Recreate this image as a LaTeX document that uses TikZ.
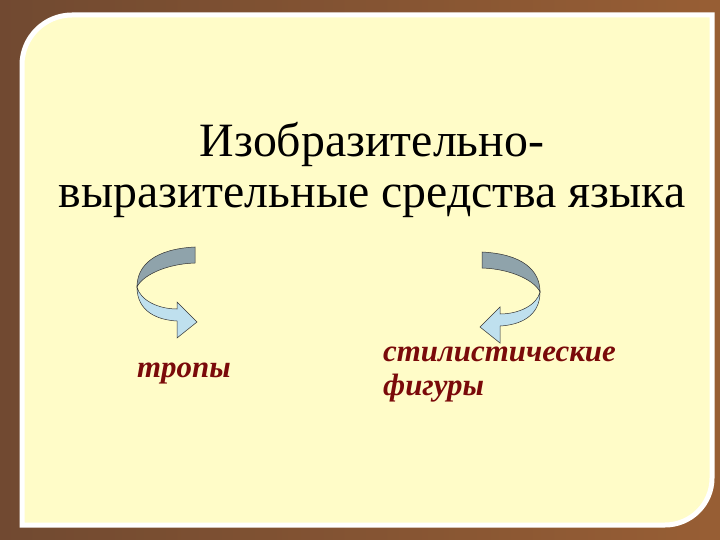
\documentclass[tikz,border=0pt]{standalone}
\usepackage{fontspec}
\setmainfont{Liberation Serif}
\definecolor{bgbrown}{HTML}{8A5A3C}
\definecolor{panel}{HTML}{FFFCC8}
\definecolor{wine}{HTML}{7A0A0A}
\definecolor{backgray}{HTML}{8FA3AB}
\definecolor{frontblue}{HTML}{BFE0EE}
\newcommand\twistshape{%
    \fill[backgray,band] (195,247) .. controls (155,249) and (137,265) .. (137,287)
       .. controls (142,276) and (165,264) .. (195,263) -- cycle;
    \fill[frontblue,band] (137,287) .. controls (137,312) and (158,320) .. (177,321)
       -- (177,338) -- (197,322) -- (177,302) -- (177,309)
       .. controls (158,309) and (140,300) .. (137,287) -- cycle;}
\tikzset{
  band/.style={draw=black!80, line width=0.5bp},
  lbl/.style={font=\fontsize{31}{34}\selectfont\bfseries\itshape, text=wine, align=left, inner sep=0pt}
}
\begin{document}
\begin{tikzpicture}[x=1bp,y=-1bp]
\useasboundingbox (0,0) rectangle (720,540);
\fill[bgbrown] (0,0) rectangle (720,540);
\shade[left color=bgbrown!70!black, right color=bgbrown!80!orange, opacity=0.6] (0,0) rectangle (720,540);
\path[fill=panel, draw=white, line width=5bp]
  (72,15) -- (712,15) -- (712,478) arc[start angle=0,end angle=90,radius=47] -- (22,525) -- (22,65) arc[start angle=180,end angle=270,radius=50] -- cycle;
\node[font=\fontsize{48}{51}\selectfont, align=center] (title) at (372,170)
  {Изобразительно-\\выразительные средства языка};
\begin{scope}
\twistshape
\end{scope}
\begin{scope}[cm={-1,0,0,1,(677,5)}]
\twistshape
\end{scope}
\node[lbl, anchor=west] (tropy) at (137,374) {тропы};
\node[lbl, anchor=north west] (figs) at (383,347) {стилистические\\фигуры};
\end{tikzpicture}
\end{document}
